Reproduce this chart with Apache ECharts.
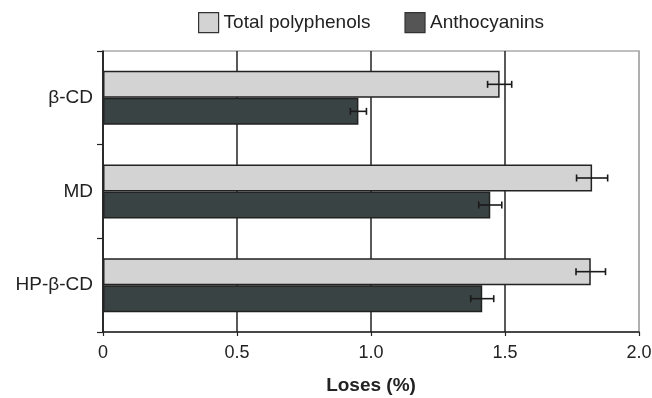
<!DOCTYPE html>
<html>
<head>
<meta charset="utf-8">
<script src="https://cdn.jsdelivr.net/npm/echarts@6/dist/echarts.min.js"></script>
<style>html,body{margin:0;padding:0;background:#fff}#c{width:652px;height:398px}</style>
</head>
<body>
<div id="c"></div>
<script>
var categories = ['β-CD', 'MD', 'HP-β-CD'];
var seriesNames = ['Total polyphenols', 'Anthocyanins'];
var totalPolyphenols = [1.48, 1.825, 1.82];
var totalPolyphenolsErr = [0.045, 0.058, 0.055];
var anthocyanins = [0.953, 1.445, 1.415];
var anthocyaninsErr = [0.03, 0.043, 0.043];
var xTicks = [0, 0.5, 1.0, 1.5, 2.0];

var FONT = 'Liberation Sans, Arial, sans-serif';
var BAR_W = 27;

function errSeries(vals, errs, offsetSign) {
  var data = vals.map(function (v, i) { return [v, i, errs[i]]; });
  return {
    type: 'custom',
    silent: true,
    z: 10,
    data: data,
    renderItem: function (params, api) {
      var v = api.value(0), idx = api.value(1), e = api.value(2);
      var lo = api.coord([v - e, idx]);
      var hi = api.coord([v + e, idx]);
      var y = lo[1] + offsetSign * BAR_W / 2;
      var cap = 3.5;
      var st = { stroke: '#1a1a1a', lineWidth: 1.6 };
      return {
        type: 'group',
        children: [
          { type: 'line', shape: { x1: lo[0], y1: y, x2: hi[0], y2: y }, style: st },
          { type: 'line', shape: { x1: lo[0], y1: y - cap, x2: lo[0], y2: y + cap }, style: st },
          { type: 'line', shape: { x1: hi[0], y1: y - cap, x2: hi[0], y2: y + cap }, style: st }
        ]
      };
    }
  };
}

var chart = echarts.init(document.getElementById('c'), null, { renderer: 'canvas' });
chart.setOption({
  animation: false,
  textStyle: { fontFamily: FONT },
  legend: {
    top: 7,
    left: 193,
    icon: 'rect',
    itemWidth: 20,
    itemHeight: 20,
    itemGap: 34,
    textStyle: { fontSize: 19, color: '#222', fontFamily: FONT },
    data: [
      { name: seriesNames[0], itemStyle: { color: '#d3d3d3', borderColor: '#333', borderWidth: 1.2 } },
      { name: seriesNames[1], itemStyle: { color: '#555555', borderColor: '#333', borderWidth: 1.2 } }
    ]
  },
  grid: {
    left: 103, right: 13, top: 51, bottom: 66,
    outerBoundsMode: 'none',
    containLabel: false,
    show: true, borderColor: '#aaaaaa', borderWidth: 1.5, backgroundColor: 'transparent'
  },
  xAxis: {
    type: 'value',
    min: 0, max: 2, interval: 0.5,
    name: 'Loses (%)',
    nameLocation: 'middle',
    nameGap: 44,
    nameTextStyle: { fontSize: 19, fontWeight: 'bold', color: '#222', fontFamily: FONT },
    axisLine: { show: true, lineStyle: { color: '#222', width: 1.5 } },
    axisTick: { show: true, length: 4, lineStyle: { color: '#222', width: 1.2 } },
    axisLabel: {
      fontSize: 18, color: '#222', margin: 12,
      formatter: function (v) { return v === 0 ? '0' : v.toFixed(1); }
    },
    splitLine: { show: true, lineStyle: { color: ['#222', '#222', '#222', '#222', '#aaaaaa'], width: 1.5 } }
  },
  yAxis: {
    type: 'category',
    inverse: true,
    data: categories,
    axisLine: { show: true, lineStyle: { color: '#222', width: 1.5 } },
    axisTick: { show: true, length: 6, inside: false, lineStyle: { color: '#222', width: 1.2 } },
    axisLabel: { fontSize: 19, color: '#222', margin: 10 },
    splitLine: { show: false }
  },
  series: [
    {
      name: seriesNames[0], type: 'bar', data: totalPolyphenols, barWidth: BAR_W, barGap: '0%',
      itemStyle: { color: '#d3d3d3', borderColor: '#222', borderWidth: 1.5 }
    },
    {
      name: seriesNames[1], type: 'bar', data: anthocyanins, barWidth: BAR_W, barGap: '0%',
      itemStyle: { color: '#3a4343', borderColor: '#222', borderWidth: 1.5 }
    },
    errSeries(totalPolyphenols, totalPolyphenolsErr, -1),
    errSeries(anthocyanins, anthocyaninsErr, 1)
  ]
});
</script>
</body>
</html>
